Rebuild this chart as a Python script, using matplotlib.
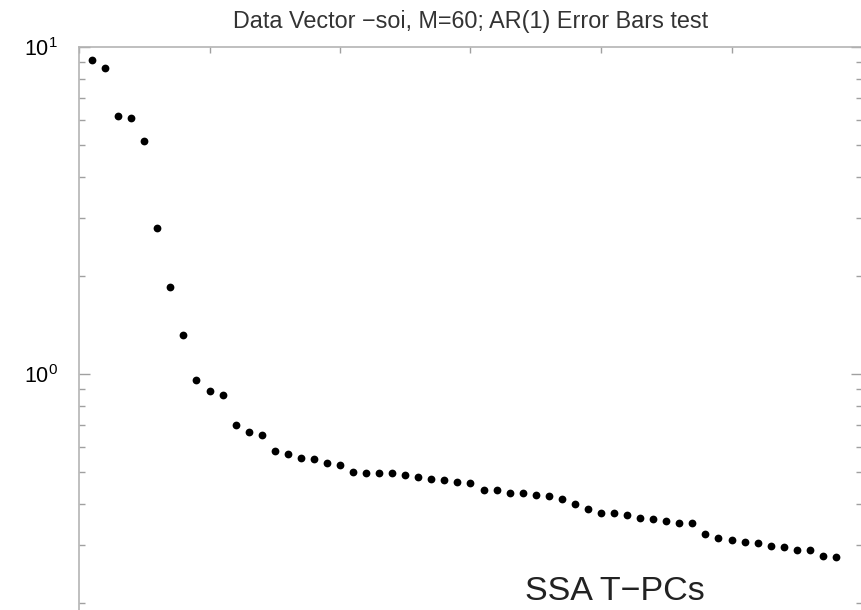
import numpy as np
import matplotlib
matplotlib.use("Agg")
import matplotlib.pyplot as plt
from matplotlib.ticker import LogLocator, NullFormatter, MultipleLocator

plt.rcParams['font.family'] = ['Liberation Sans', 'DejaVu Sans']
plt.rcParams['mathtext.default'] = 'regular'

# Data: SSA eigenvalue spectrum
pc_index = np.arange(1, 59)
eigenvalues = [9.15, 8.64, 6.17, 6.07, 5.15, 2.80, 1.85, 1.319, 0.959, 0.887,
               0.863, 0.698, 0.665, 0.651, 0.581, 0.569, 0.555, 0.550, 0.535, 0.526,
               0.503, 0.497, 0.498, 0.498, 0.490, 0.483, 0.478, 0.475, 0.466, 0.463,
               0.443, 0.442, 0.433, 0.433, 0.427, 0.423, 0.416, 0.400, 0.387, 0.3765,
               0.375, 0.370, 0.364, 0.361, 0.356, 0.3495, 0.3495, 0.3235, 0.315, 0.310,
               0.3058, 0.3037, 0.298, 0.295, 0.290, 0.2895, 0.2776, 0.2757]

title = "Data Vector \u2212soi, M=60; AR(1) Error Bars test"
note = "SSA T\u2212PCs"

fig = plt.figure(figsize=(8.61, 6.10), dpi=100)
ax = fig.add_axes([79/861, -0.0123, (862-79)/861, 0.9352])

ax.semilogy(pc_index, eigenvalues, 'o', color='black', markersize=5.6, markeredgewidth=0)

ax.set_xlim(0, 60)
ax.set_ylim(0.18, 10)
ax.xaxis.set_major_locator(MultipleLocator(10))
ax.yaxis.set_major_locator(LogLocator(base=10))
ax.yaxis.set_minor_locator(LogLocator(base=10, subs=np.arange(2, 10)))
ax.yaxis.set_minor_formatter(NullFormatter())

for s in ax.spines.values():
    s.set_color('#b4b4b4')
    s.set_linewidth(1.2)

ax.tick_params(which='both', direction='in', color='#a0a0a0', top=True, right=True,
               labelbottom=False)
ax.tick_params(axis='y', which='major', length=8, width=1, labelsize=15.5, pad=15)
ax.tick_params(axis='y', which='minor', length=4, width=1)
ax.tick_params(axis='x', which='major', length=4, width=1)

ax.set_title(title, fontsize=16.8, color='#333333', pad=13.5)
fig.text(525/861, 1 - 600/610, note, fontsize=24.5, color='#222222', va='baseline', ha='left')

fig.savefig("out.png", dpi=100)
